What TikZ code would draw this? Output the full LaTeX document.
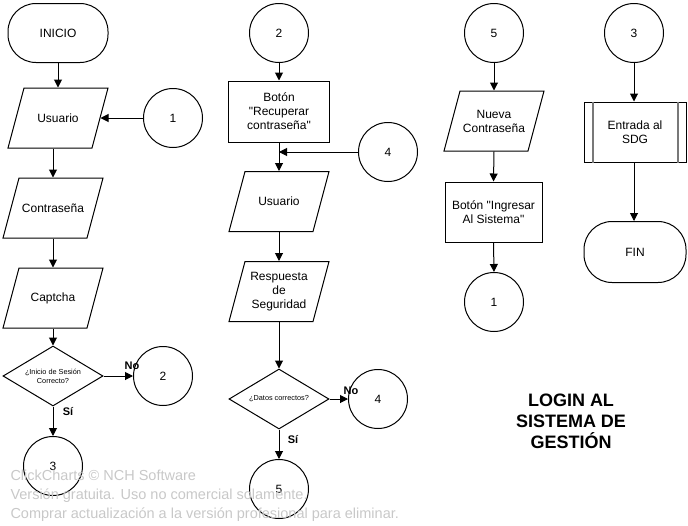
\documentclass[tikz,border=0pt]{standalone}
\usepackage{fontspec}
\setmainfont{Liberation Sans}[Ligatures=TeXOff]
\usetikzlibrary{shapes.geometric,arrows.meta,calc}
\definecolor{wm}{RGB}{200,200,200}
\definecolor{pp}{RGB}{120,120,120}
\tikzset{
  base/.style={font=\fontsize{12}{14}\selectfont, align=center, inner sep=0pt},
  term/.style={base, draw, rounded corners=28pt, minimum width=100pt, minimum height=59pt},
  proc/.style={base, draw, minimum width=100pt, minimum height=60pt},
  conn/.style={base, draw, circle, minimum size=59pt},
  paranode/.style={base, minimum width=84pt, minimum height=60pt},
  decis/.style={draw, diamond, shape aspect=1.67, inner sep=0pt, minimum width=100pt, minimum height=60pt, align=center, font=\fontsize{7.3}{9}\selectfont},
  arr/.style={line width=1pt, -{Triangle[length=8pt,width=8pt]}},
  lbl/.style={font=\fontsize{11}{13}\selectfont\bfseries, inner sep=0pt},
  wmtext/.style={font=\fontsize{14.5}{16}\selectfont, text=wm, anchor=base west, inner sep=0pt},
  every path/.style={line width=1pt}
}
\newcommand\paral[4]{%
  \node[paranode] (#1) at (#2,#3) {#4};
  \draw ($(#1.center)+(-34,-30)$) -- ($(#1.center)+(50,-30)$) -- ($(#1.center)+(34,30)$) -- ($(#1.center)+(-50,30)$) -- cycle;
}
\begin{document}
\begin{tikzpicture}[x=1pt,y=-1pt]
\useasboundingbox (0,0) rectangle (688,525);
% ---------- column 1
\node[term] (ini) at (58,33) {INICIO};
\paral{usu1}{58}{118}{Usuario}
\node[conn] (c1) at (173,118) {1};
\paral{con1}{53}{208}{Contraseña}
\paral{cap1}{53}{298}{Captcha}
\node[decis] (dec1) at (53,376) {¿Inicio de Sesión\\Correcto?};
\node[conn] (c2a) at (163,376) {2};
\node[conn] (c3a) at (53,466) {3};
\draw[arr] (ini.south) -- (usu1.north);
\draw[arr] (c1.west) -- (usu1.east);
\draw[arr] (con1.north |- usu1.south) -- (con1.north);
\draw[arr] (con1.south) -- (cap1.north);
\draw[arr] (cap1.south) -- (dec1.north);
\draw[arr] (dec1.east) -- (c2a.west);
\draw[arr] (dec1.south) -- (c3a.north);
\node[lbl] (no1) at (132,366) {No};
\node[lbl] (si1) at (68,412) {Sí};
% ---------- column 2
\node[conn] (c2b) at (279,33) {2};
\node[proc, minimum width=101pt, minimum height=61pt] (btn1) at (279,111.5) {Botón\\"Recuperar\\contraseña"};
\node[conn] (c4a) at (388,152) {4};
\paral{usu2}{279}{201.5}{Usuario}
\paral{res2}{279}{291.5}{Respuesta\\de\\Seguridad}
\node[decis] (dec2) at (279,399) {¿Datos correctos?};
\node[conn] (c4b) at (378,399) {4};
\node[conn] (c5a) at (279,489) {5};
\coordinate (j4) at (btn1.south |- c4a.west);
\draw[arr] (c2b.south) -- (btn1.north);
\draw[arr] (btn1.south) -- (usu2.north);
\draw[arr] (c4a.west) -- (j4);
\draw[arr] (usu2.south) -- (res2.north);
\draw[arr] (res2.south) -- (dec2.north);
\draw[arr] (dec2.east) -- (c4b.west);
\draw[arr] (dec2.south) -- (c5a.north);
\node[lbl] (no2) at (351,391) {No};
\node[lbl] (si2) at (293,440) {Sí};
% ---------- column 3
\node[conn] (c5b) at (494,33) {5};
\paral{nue}{494}{121}{Nueva\\Contraseña}
\node[proc, minimum width=97pt] (btn2) at (493.5,212) {Botón "Ingresar\\Al Sistema"};
\node[conn] (c1b) at (494,302) {1};
\draw[arr] (c5b.south) -- (nue.north);
\draw[arr] (nue.south) -- (btn2.north);
\draw[arr] (btn2.south) -- (c1b.north);
% ---------- column 4
\node[conn] (c3b) at (634,33) {3};
\node[proc, minimum width=102pt] (ent) at (635,132) {Entrada al\\SDG};
\draw[pp, line width=2pt] ($(ent.north west)+(9,0)$) -- ($(ent.south west)+(9,0)$);
\draw[pp, line width=2pt] ($(ent.north east)+(-9,0)$) -- ($(ent.south east)+(-9,0)$);
\node[term, minimum width=102pt, minimum height=61pt] (fin) at (635,252) {FIN};
\draw[arr] (c3b.south) -- (ent.north -| c3b.south);
\draw[arr] (ent.south -| c3b.south) -- (fin.north -| c3b.south);
% ---------- title
\node[font=\fontsize{18}{21}\selectfont\bfseries, align=center, inner sep=0pt] (title) at (571,421) {LOGIN AL\\SISTEMA DE\\GESTIÓN};
% ---------- watermark
\node[wmtext] (w1) at (10,480) {ClickCharts © NCH Software};
\node[wmtext] (w2) at (10,499) {Versión gratuita. Uso no comercial solamente.};
\node[wmtext] (w3) at (10,518) {Comprar actualización a la versión profesional para eliminar.};
\end{tikzpicture}
\end{document}
